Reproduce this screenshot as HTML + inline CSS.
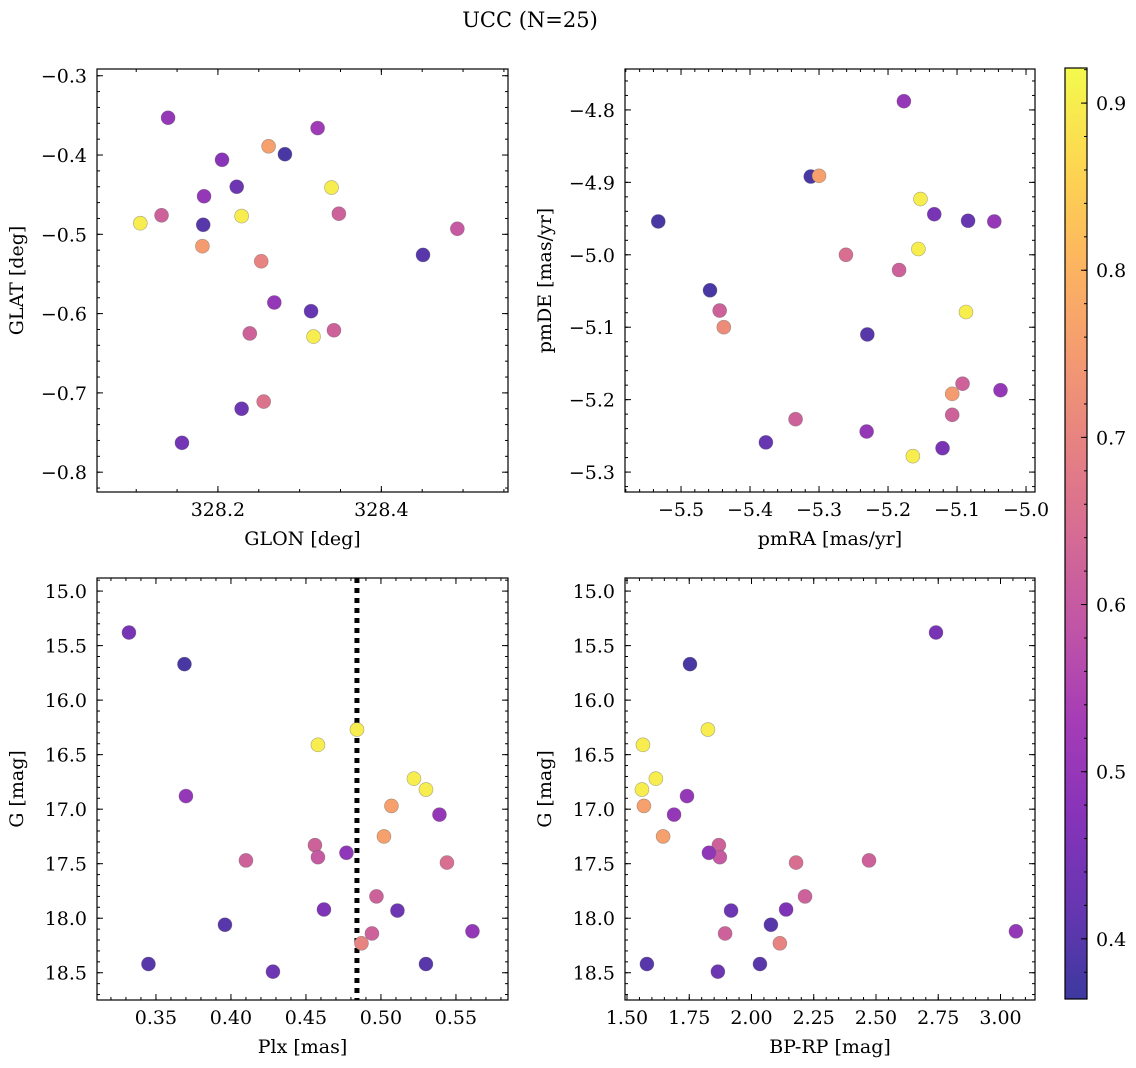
<!DOCTYPE html>
<html><head><meta charset="utf-8"><style>
html,body{margin:0;padding:0;background:#fff;}
svg{display:block;font-family:"DejaVu Serif","Liberation Serif",serif;}
</style></head><body>
<svg id="fig" width="1136" height="1068" viewBox="0 0 1136 1068" xmlns="http://www.w3.org/2000/svg">
<text x="530" y="27" font-size="21" text-anchor="middle">UCC (N=25)</text>
</svg>
<script>
// ---- data ----
const tlGlon = [328.139,328.322,328.262,328.282,328.205,328.223,328.339,328.183,328.131,328.105,328.229,328.348,328.182,328.493,328.181,328.451,328.253,328.269,328.314,328.239,328.342,328.317,328.256,328.229,328.156];
const tlGlat = [-0.353,-0.366,-0.389,-0.399,-0.406,-0.440,-0.441,-0.452,-0.476,-0.486,-0.477,-0.474,-0.488,-0.493,-0.515,-0.526,-0.534,-0.586,-0.597,-0.625,-0.621,-0.629,-0.711,-0.720,-0.763];
const tlProb = [0.50,0.52,0.76,0.38,0.48,0.43,0.90,0.50,0.62,0.90,0.90,0.62,0.40,0.60,0.75,0.40,0.70,0.50,0.42,0.62,0.62,0.90,0.66,0.43,0.44];

const trPmra = [-5.177,-5.312,-5.300,-5.153,-5.133,-5.084,-5.046,-5.533,-5.156,-5.261,-5.184,-5.458,-5.444,-5.438,-5.087,-5.230,-5.092,-5.037,-5.107,-5.107,-5.334,-5.231,-5.377,-5.121,-5.164];
const trPmde = [-4.788,-4.892,-4.891,-4.923,-4.944,-4.953,-4.954,-4.954,-4.992,-5.000,-5.021,-5.049,-5.077,-5.100,-5.079,-5.110,-5.178,-5.187,-5.192,-5.221,-5.227,-5.244,-5.259,-5.267,-5.278];
const trProb = [0.50,0.38,0.76,0.90,0.45,0.42,0.50,0.38,0.90,0.65,0.62,0.38,0.62,0.72,0.90,0.40,0.62,0.50,0.75,0.62,0.62,0.50,0.42,0.45,0.90];

const plx  = [0.332,0.369,0.484,0.458,0.370,0.522,0.530,0.507,0.539,0.502,0.456,0.458,0.477,0.410,0.544,0.497,0.462,0.511,0.396,0.494,0.561,0.487,0.345,0.530,0.428];
const gmag = [15.38,15.67,16.27,16.41,16.88,16.72,16.82,16.97,17.05,17.25,17.33,17.44,17.40,17.47,17.49,17.80,17.92,17.93,18.06,18.14,18.12,18.23,18.42,18.42,18.49];
const bprp = [2.741,1.753,1.825,1.564,1.741,1.616,1.560,1.568,1.689,1.645,1.869,1.873,1.829,2.472,2.179,2.215,2.139,1.918,2.078,1.894,3.062,2.114,1.580,2.034,1.865];
const gProb = [0.45,0.38,0.90,0.90,0.50,0.90,0.90,0.76,0.50,0.76,0.62,0.60,0.49,0.62,0.65,0.62,0.46,0.43,0.40,0.62,0.50,0.70,0.40,0.40,0.43];
const plxLine = 0.484;

const cbTicks = [0.4,0.5,0.6,0.7,0.8,0.9];
const vmin = 0.364, vmax = 0.921;

// ---- helpers ----
const NS = "http://www.w3.org/2000/svg";
const svg = document.getElementById('fig');
function el(tag, attrs, parent){ const e=document.createElementNS(NS,tag); for(const k in attrs) e.setAttribute(k,attrs[k]); (parent||svg).appendChild(e); return e; }
const plasma = ["#0d0887","#41049d","#6a00a8","#8f0da4","#b12a90","#cc4778","#e16462","#f2844b","#fca636","#fcce25","#f0f921"];
function hex(h){return [parseInt(h.substr(1,2),16),parseInt(h.substr(3,2),16),parseInt(h.substr(5,2),16)];}
function cmap(v){
  let t=(v-vmin)/(vmax-vmin); t=Math.max(0,Math.min(1,t));
  const f=t*10, i=Math.min(9,Math.floor(f)), r=f-i;
  const a=hex(plasma[i]), b=hex(plasma[i+1]);
  const c=a.map((x,k)=>Math.round((x+(b[k]-x)*r)*0.8+255*0.2));
  return `rgb(${c[0]},${c[1]},${c[2]})`;
}
function fmt(v,d){ const s=Math.abs(v).toFixed(d); return (v<-1e-9?"\u2212":"")+s; }
const FS = 19;

function panel(p){
  const g = el('g',{},svg);
  
  
  const X = v => p.x0 + (v-p.xmin)/(p.xmax-p.xmin)*(p.x1-p.x0);
  const Y = v => p.y0 + (v-p.ymax)/(p.ymin-p.ymax)*(p.y1-p.y0);
  const eps=1e-9;
  function ticks(a,b,step){ const lo=Math.min(a,b), hi=Math.max(a,b); const out=[]; for(let v=Math.ceil(lo/step-eps)*step; v<=hi+eps; v+=step) out.push(+v.toFixed(6)); return out; }
  const tg = el('g',{stroke:'#000','stroke-width':1},g);
  
  
  ticks(p.xmin,p.xmax,p.xminor).forEach(v=>{const x=X(v); el('line',{x1:x,x2:x,y1:p.y1,y2:p.y1-3},tg); el('line',{x1:x,x2:x,y1:p.y0,y2:p.y0+3},tg);});
  ticks(p.ymin,p.ymax,p.yminor).forEach(v=>{const y=Y(v); el('line',{x1:p.x0,x2:p.x0+3,y1:y,y2:y},tg); el('line',{x1:p.x1,x2:p.x1-3,y1:y,y2:y},tg);});
  ticks(p.xmin,p.xmax,p.xmajor).forEach(v=>{const x=X(v); el('line',{x1:x,x2:x,y1:p.y1,y2:p.y1-6},tg); el('line',{x1:x,x2:x,y1:p.y0,y2:p.y0+6},tg);
    const t=el('text',{x:x,y:p.y1+24,'font-size':FS,'text-anchor':'middle'},g); t.textContent=fmt(v,p.xd);
     });
  ticks(p.ymin,p.ymax,p.ymajor).forEach(v=>{const y=Y(v); el('line',{x1:p.x0,x2:p.x0+6,y1:y,y2:y},tg); el('line',{x1:p.x1,x2:p.x1-6,y1:y,y2:y},tg);
    const t=el('text',{x:p.x0-10,y:y+7,'font-size':FS,'text-anchor':'end'},g); t.textContent=fmt(v,p.yd);
     });
  if(p.vline!==undefined){ const l=el('line',{x1:X(p.vline),x2:X(p.vline),y1:p.y0,y2:p.y1,stroke:'#000','stroke-width':5,'stroke-dasharray':'5 5'},g);
      }
  p.xs.forEach((xv,i)=>{
    const c=el('circle',{cx:X(xv),cy:Y(p.ys[i]),r:7,fill:cmap(p.cs[i]),stroke:'rgba(90,90,90,0.5)','stroke-width':0.6},g);
    
    
  });
  const f=el('rect',{x:p.x0,y:p.y0,width:p.x1-p.x0,height:p.y1-p.y0,fill:'none',stroke:'#000','stroke-width':1.2},g);
   
  const xl=el('text',{x:(p.x0+p.x1)/2,y:p.y1+53,'font-size':FS,'text-anchor':'middle'},g); xl.textContent=p.xlabel;
   
  const yx=p.x0-p.ylOff, yy=(p.y0+p.y1)/2;
  const yl=el('text',{x:yx,y:yy,'font-size':FS,'text-anchor':'middle',transform:`rotate(-90 ${yx} ${yy})`},g); yl.textContent=p.ylabel;
   
}

panel({name:'glon-glat-panel',x0:97,x1:508,y0:69,y1:492,xmin:328.052,xmax:328.555,ymin:-0.825,ymax:-0.2915,xmajor:0.2,xminor:0.05,ymajor:0.1,yminor:0.02,xd:1,yd:1,xs:tlGlon,ys:tlGlat,cs:tlProb,xlabel:'GLON [deg]',ylabel:'GLAT [deg]',ylOff:74});
panel({name:'pm-panel',x0:625,x1:1035,y0:69,y1:492,xmin:-5.5812,xmax:-4.9870,ymin:-5.3275,ymax:-4.7435,xmajor:0.1,xminor:0.02,ymajor:0.1,yminor:0.02,xd:1,yd:1,xs:trPmra,ys:trPmde,cs:trProb,xlabel:'pmRA [mas/yr]',ylabel:'pmDE [mas/yr]',ylOff:74});
panel({name:'plx-g-panel',x0:97,x1:508,y0:578,y1:1000,xmin:0.3107,xmax:0.5847,ymin:18.75,ymax:14.88,xmajor:0.05,xminor:0.01,ymajor:0.5,yminor:0.1,xd:2,yd:1,xs:plx,ys:gmag,cs:gProb,xlabel:'Plx [mas]',ylabel:'G [mag]',ylOff:74,vline:plxLine});
panel({name:'color-g-panel',x0:625,x1:1035,y0:578,y1:1000,xmin:1.4920,xmax:3.1386,ymin:18.75,ymax:14.88,xmajor:0.25,xminor:0.05,ymajor:0.5,yminor:0.1,xd:2,yd:1,xs:bprp,ys:gmag,cs:gProb,xlabel:'BP-RP [mag]',ylabel:'G [mag]',ylOff:74});

(function(){
  const x0=1065,x1=1087,y0=68,y1=999;
  const g=el('g',{},svg);
   
  const defs=el('defs',{},svg);
  const lg=el('linearGradient',{id:'cbg',x1:0,y1:1,x2:0,y2:0},defs);
  for(let k=0;k<=20;k++){ const v=vmin+(vmax-vmin)*k/20; el('stop',{offset:(k/20),'stop-color':cmap(v)},lg); }
  el('rect',{x:x0,y:y0,width:x1-x0,height:y1-y0,fill:'url(#cbg)'},g);
  const Y=v=>y1-(v-vmin)/(vmax-vmin)*(y1-y0);
  for(let v=0.38; v<=vmax; v+=0.02){ const y=Y(v); el('line',{x1:x1,x2:x1-3,y1:y,y2:y,stroke:'#000'},g); }
  cbTicks.forEach(v=>{ const y=Y(v); el('line',{x1:x1,x2:x1-6,y1:y,y2:y,stroke:'#000'},g);
    const t=el('text',{x:x1+9,y:y+7,'font-size':FS},g); t.textContent=v.toFixed(1);
      });
  el('rect',{x:x0,y:y0,width:x1-x0,height:y1-y0,fill:'none',stroke:'#000','stroke-width':1.2},g);
})();
</script>
</body></html>
